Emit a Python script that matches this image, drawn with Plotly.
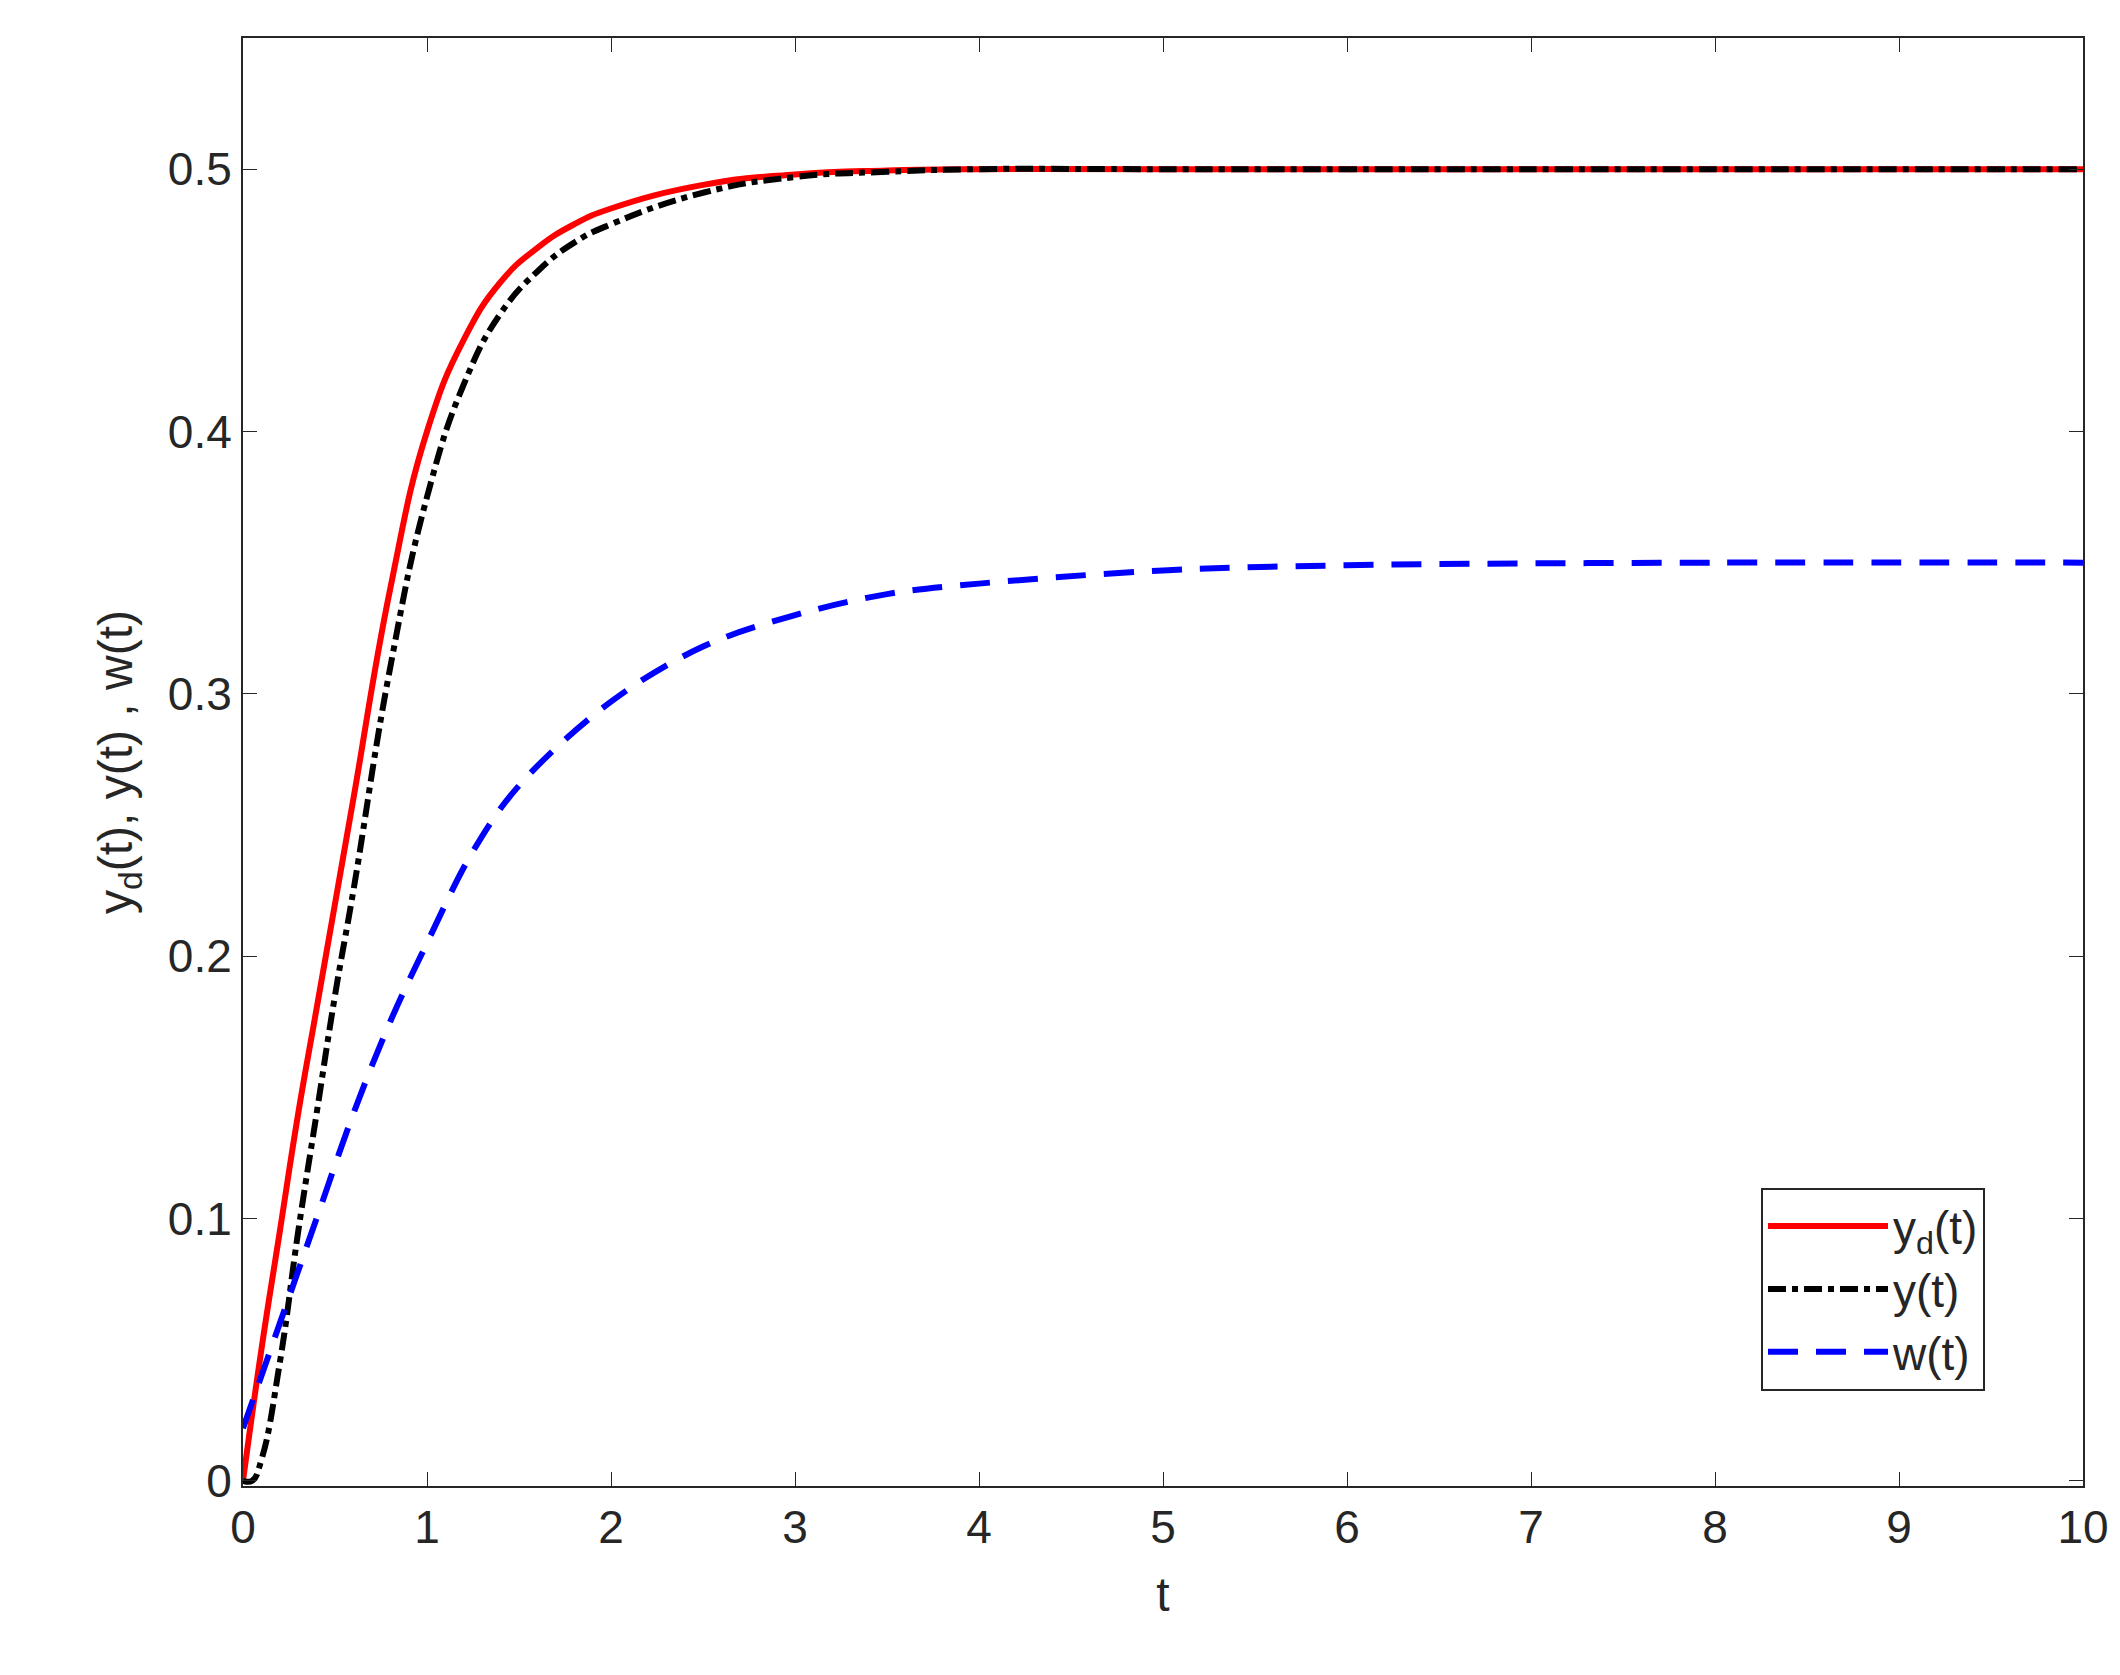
import plotly.graph_objects as go

t_yd = [0, 0.1, 0.2, 0.3, 0.4, 0.5, 0.6, 0.8, 1.0, 1.2, 1.4, 1.6, 1.8, 2.0, 2.5, 3.0, 3.5, 4.0, 5.0, 10.0]
yd = [0, 0.05, 0.095, 0.14, 0.18, 0.22, 0.26, 0.34, 0.40, 0.435, 0.457, 0.47, 0.479, 0.485, 0.494, 0.498, 0.4995, 0.5, 0.5, 0.5]

t_y = [0, 0.05, 0.1, 0.2, 0.3, 0.4, 0.5, 0.6, 0.8, 1.0, 1.2, 1.4, 1.6, 1.8, 2.0, 2.5, 3.0, 3.5, 4.0, 5.0, 10.0]
y = [0.0, 0.0, 0.008, 0.045, 0.095, 0.14, 0.185, 0.225, 0.31, 0.375, 0.418, 0.445, 0.461, 0.472, 0.479, 0.491, 0.497, 0.499, 0.5, 0.5, 0.5]

t_w = [0, 0.2, 0.4, 0.6, 0.8, 1.0, 1.25, 1.5, 2.0, 2.5, 3.0, 3.5, 4.0, 5.0, 6.0, 8.0, 10.0]
w = [0.02, 0.06, 0.1, 0.14, 0.175, 0.205, 0.24, 0.265, 0.297, 0.318, 0.33, 0.338, 0.342, 0.347, 0.349, 0.35, 0.35]

fig = go.Figure()
fig.add_trace(go.Scatter(x=t_yd, y=yd, mode="lines", name="y<sub>d</sub>(t)",
                         line=dict(color="red", width=6, shape="spline", smoothing=1.3)))
fig.add_trace(go.Scatter(x=t_y, y=y, mode="lines", name="y(t)",
                         line=dict(color="black", width=6, dash="dashdot", shape="spline", smoothing=1.3)))
fig.add_trace(go.Scatter(x=t_w, y=w, mode="lines", name="w(t)",
                         line=dict(color="blue", width=6, dash="30px,18px", shape="spline")))

ax = dict(showgrid=False, zeroline=False, showline=True, linecolor="#262626", linewidth=2,
          mirror="ticks", ticks="inside", ticklen=14, tickcolor="#262626",
          tickfont=dict(size=46, color="#262626"))
fig.update_xaxes(**ax, range=[0, 10], tickvals=list(range(11)),
                 title=dict(text="t", font=dict(size=48, color="#262626"), standoff=25))
fig.update_yaxes(**ax, range=[-0.002, 0.55], tickvals=[0, 0.1, 0.2, 0.3, 0.4, 0.5],
                 ticktext=["0", "0.1", "0.2", "0.3", "0.4", "0.5"],
                 title=dict(text="y<sub>d</sub>(t), y(t) , w(t)", font=dict(size=48, color="#262626"), standoff=20))
fig.update_layout(width=2120, height=1675, paper_bgcolor="white", plot_bgcolor="white",
                  margin=dict(l=235, r=45, t=30, b=197),
                  font=dict(family="Liberation Sans, Arial, sans-serif"),
                  legend=dict(x=0.825, y=0.206, xanchor="left", yanchor="top",
                              bgcolor="white", bordercolor="#262626", borderwidth=2,
                              font=dict(size=46, color="#262626"), itemwidth=120,
                              tracegroupgap=10))
fig.write_html("out.html")
